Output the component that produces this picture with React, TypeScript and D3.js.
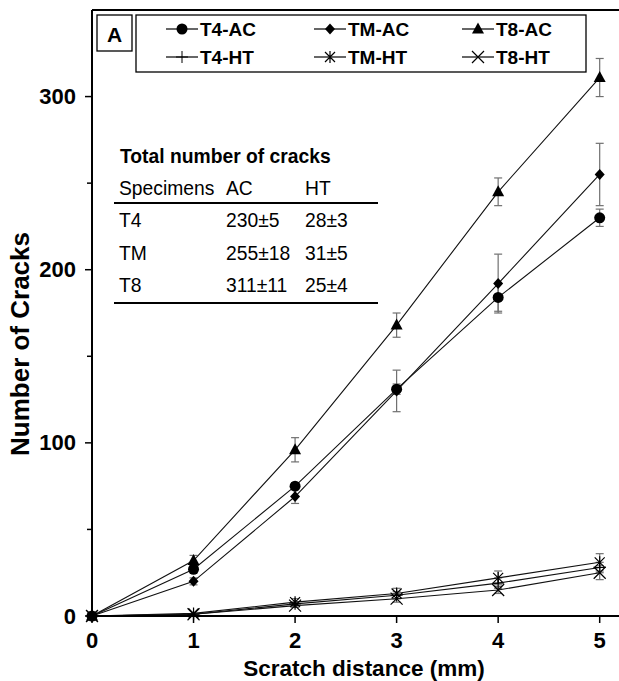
import React from "react";
import * as d3 from "d3";

// Scratch distance (mm)
const distances = [0, 1, 2, 3, 4, 5];

// As-cast specimens: mean crack counts and standard deviations
const t4AC = [0, 27, 75, 131, 184, 230];
const tmAC = [0, 20, 69, 130, 192, 255];
const t8AC = [0, 32, 96, 168, 245, 311];
const t4ACErr = [0, 2, 2, 3, 8, 5];
const tmACErr = [0, 2, 4, 12, 17, 18];
const t8ACErr = [0, 3, 7, 7, 8, 11];

// Heat-treated specimens
const t4HT = [0, 1, 7, 12, 19, 28];
const tmHT = [0, 1.5, 8, 13, 22, 31];
const t8HT = [0, 1, 6, 10, 15, 25];
const t4HTErr = [0, 0.5, 1, 2, 3, 3];
const tmHTErr = [0, 0.5, 2, 3, 4, 5];
const t8HTErr = [0, 0.5, 1, 2, 2, 4];

const seriesNames = ["T4-AC", "TM-AC", "T8-AC", "T4-HT", "TM-HT", "T8-HT"];
const markerKinds = ["circle", "diamond", "triangle", "plus", "asterisk", "cross"];

const yMajorTicks = [0, 100, 200, 300];
const yMinorTicks = [50, 150, 250];

const tableTitle = "Total number of cracks";
const tableHeader = ["Specimens", "AC", "HT"];
const tableRows = [
  ["T4", "230±5", "28±3"],
  ["TM", "255±18", "31±5"],
  ["T8", "311±11", "25±4"],
];

const W = 619;
const H = 681;
const FONT = "'Liberation Sans', Arial, Helvetica, sans-serif";

const x = d3.scaleLinear().domain([0, 5.2]).range([92, 620]);
const y = d3.scaleLinear().domain([0, 350]).range([616, 10]);

function Marker({ kind, cx, cy }: { kind: string; cx: number; cy: number }) {
  const s = 6;
  switch (kind) {
    case "circle":
      return <circle cx={cx} cy={cy} r={5.5} fill="#000" />;
    case "diamond":
      return (
        <path
          d={`M${cx},${cy - 5.5}L${cx + 5},${cy}L${cx},${cy + 5.5}L${cx - 5},${cy}Z`}
          fill="#000"
        />
      );
    case "triangle":
      return (
        <path
          d={`M${cx},${cy - 6.5}L${cx + 6},${cy + 4.5}L${cx - 6},${cy + 4.5}Z`}
          fill="#000"
        />
      );
    case "plus":
      return (
        <path
          d={`M${cx - s},${cy}H${cx + s}M${cx},${cy - s}V${cy + s}`}
          stroke="#000"
          strokeWidth={1}
          fill="none"
        />
      );
    case "asterisk":
      return (
        <path
          d={`M${cx - 5},${cy - 5}L${cx + 5},${cy + 5}M${cx + 5},${cy - 5}L${cx - 5},${cy + 5}M${cx},${cy - 6}V${cy + 6}`}
          stroke="#000"
          strokeWidth={1.2}
          fill="none"
        />
      );
    default:
      return (
        <path
          d={`M${cx - 6},${cy - 6}L${cx + 6},${cy + 6}M${cx + 6},${cy - 6}L${cx - 6},${cy + 6}`}
          stroke="#000"
          strokeWidth={1.2}
          fill="none"
        />
      );
  }
}

export default function App() {
  const series = [
    { values: t4AC, err: t4ACErr },
    { values: tmAC, err: tmACErr },
    { values: t8AC, err: t8ACErr },
    { values: t4HT, err: t4HTErr },
    { values: tmHT, err: tmHTErr },
    { values: t8HT, err: t8HTErr },
  ];

  const line = d3
    .line<number>()
    .x((_, i) => x(distances[i]))
    .y((v) => y(v));

  // legend grid positions
  const legendCols = [182, 330, 478];
  const legendRows = [29, 57];

  return (
    <svg
      width={W}
      height={H}
      style={{ position: "absolute", left: 0, top: 0, background: "#fff" }}
      fontFamily={FONT}
    >
      <rect x={0} y={0} width={W} height={H} fill="#fff" />

      {/* error bars */}
      {series.map((s, si) =>
        s.values.map((v, i) => {
          const e = s.err[i];
          if (!e || e < 1) return null;
          const cx = x(distances[i]);
          const y1 = y(v + e);
          const y2 = y(v - e);
          return (
            <g key={`e${si}-${i}`} stroke="#707070" strokeWidth={1.2}>
              <line x1={cx} x2={cx} y1={y1} y2={y2} />
              <line x1={cx - 4} x2={cx + 4} y1={y1} y2={y1} />
              <line x1={cx - 4} x2={cx + 4} y1={y2} y2={y2} />
            </g>
          );
        })
      )}

      {/* series lines */}
      {series.map((s, si) => (
        <path key={`l${si}`} d={line(s.values) || ""} fill="none" stroke="#111" strokeWidth={1.1} />
      ))}

      {/* markers */}
      {series.map((s, si) =>
        s.values.map((v, i) => (
          <Marker key={`m${si}-${i}`} kind={markerKinds[si]} cx={x(distances[i])} cy={y(v)} />
        ))
      )}

      {/* axes frame */}
      <g stroke="#000" strokeWidth={2} fill="none">
        <line x1={x(0)} x2={x(0)} y1={y(350)} y2={y(0)} />
        <line x1={x(0)} x2={W} y1={y(0)} y2={y(0)} />
        <line x1={x(0)} x2={W} y1={y(350)} y2={y(350)} />
      </g>

      {/* y ticks */}
      {yMajorTicks.map((t) => (
        <g key={`yt${t}`}>
          <line x1={x(0) - 7} x2={x(0)} y1={y(t)} y2={y(t)} stroke="#000" strokeWidth={1.5} />
          <text
            x={76}
            y={y(t)}
            textAnchor="end"
            dominantBaseline="central"
            fontSize={22}
            fontWeight="bold"
          >
            {t}
          </text>
        </g>
      ))}
      {yMinorTicks.map((t) => (
        <line key={`ym${t}`} x1={x(0) - 5} x2={x(0)} y1={y(t)} y2={y(t)} stroke="#000" strokeWidth={1.5} />
      ))}

      {/* x ticks */}
      {distances.map((d) => (
        <g key={`xt${d}`}>
          <line x1={x(d)} x2={x(d)} y1={y(0)} y2={y(0) + 7} stroke="#000" strokeWidth={1.5} />
          <text x={x(d)} y={640} textAnchor="middle" dominantBaseline="central" fontSize={22} fontWeight="bold">
            {d}
          </text>
        </g>
      ))}

      {/* axis titles */}
      <text x={364} y={668} textAnchor="middle" dominantBaseline="central" fontSize={22.5} fontWeight="bold">
        Scratch distance (mm)
      </text>
      <text
        transform={`translate(20, 344) rotate(-90)`}
        textAnchor="middle"
        dominantBaseline="central"
        fontSize={26}
        fontWeight="bold"
      >
        Number of Cracks
      </text>

      {/* panel letter */}
      <rect x={97} y={15} width={35} height={36} fill="#fff" stroke="#000" strokeWidth={1.3} />
      <text x={114.5} y={34} textAnchor="middle" dominantBaseline="central" fontSize={21} fontWeight="bold">
        A
      </text>

      {/* legend */}
      <rect x={136} y={15} width={450} height={57} fill="#fff" stroke="#000" strokeWidth={1.3} />
      {seriesNames.map((name, i) => {
        const cx = legendCols[i % 3];
        const cy = legendRows[Math.floor(i / 3)];
        return (
          <g key={`lg${i}`}>
            <line x1={cx - 16} x2={cx + 16} y1={cy} y2={cy} stroke="#000" strokeWidth={1.2} />
            <Marker kind={markerKinds[i]} cx={cx} cy={cy} />
            <text x={cx + 18} y={cy} dominantBaseline="central" fontSize={19} fontWeight="bold">
              {name}
            </text>
          </g>
        );
      })}

      {/* summary table */}
      <g fontSize={19.3}>
        <text x={120} y={163} fontWeight="bold">
          {tableTitle}
        </text>
        {tableHeader.map((h, i) => (
          <text key={`th${i}`} x={[119, 226, 305][i]} y={195}>
            {h}
          </text>
        ))}
        <line x1={114} x2={378} y1={203} y2={203} stroke="#000" strokeWidth={2} />
        {tableRows.map((row, r) =>
          row.map((cell, c) => (
            <text key={`td${r}-${c}`} x={[119, 226, 305][c]} y={227 + r * 32.5}>
              {cell}
            </text>
          ))
        )}
        <line x1={114} x2={378} y1={303} y2={303} stroke="#000" strokeWidth={2} />
      </g>
    </svg>
  );
}
